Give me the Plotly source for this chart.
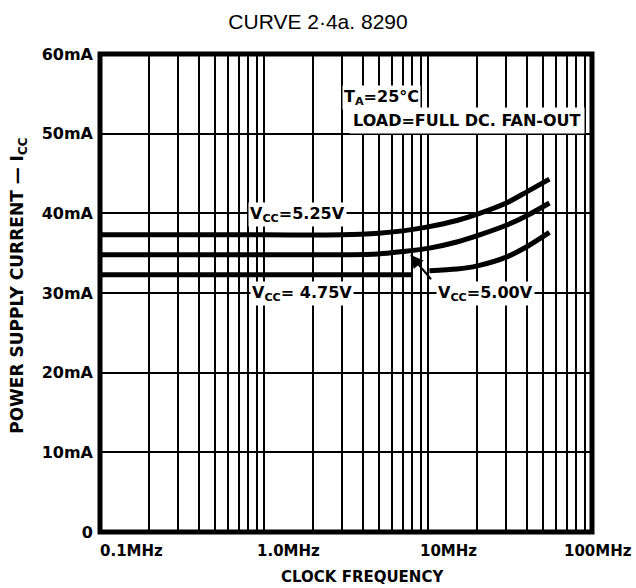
import math
import plotly.graph_objects as go

# Supply current vs. clock frequency, three supply voltages
freq_525 = [0.1, 1, 3, 5, 7, 10, 15, 20, 30, 40, 55]
icc_525 = [37.3, 37.3, 37.3, 37.5, 37.8, 38.3, 39.1, 39.9, 41.3, 42.7, 44.3]

freq_500 = [0.1, 1, 3, 5, 7, 10, 15, 20, 30, 40, 55]
icc_500 = [34.8, 34.8, 34.8, 34.9, 35.2, 35.6, 36.4, 37.2, 38.5, 39.7, 41.3]

freq_475_low = [0.1, 1, 3, 8.1]
icc_475_low = [32.3, 32.3, 32.3, 32.3]
freq_475_high = [10.2, 15, 20, 30, 40, 55]
icc_475_high = [32.8, 33.0, 33.4, 34.5, 35.8, 37.6]

x_ticks = [0.1, 1, 10, 100]
x_tick_text = ["0.1MHz", "1.0MHz", "10MHz", "100MHz"]
y_ticks = [0, 10, 20, 30, 40, 50, 60]
y_tick_text = ["0", "10mA", "20mA", "30mA", "40mA", "50mA", "60mA"]

# log-decade grid: 1..9 multiples of each decade
grid_x = [m * 10 ** e for e in (-1, 0, 1) for m in range(1, 10)] + [100]

BOLD = "DejaVu Sans"
LW = 5


def lx(v):
    # annotation positions on a log axis are given in log10 units
    return math.log10(v)


fig = go.Figure()
for fx, fy in [(freq_525, icc_525), (freq_500, icc_500),
               (freq_475_low, icc_475_low), (freq_475_high, icc_475_high)]:
    fig.add_trace(go.Scatter(x=fx, y=fy, mode="lines",
                             line=dict(color="black", width=LW, shape="spline", smoothing=0.8),
                             hoverinfo="skip", showlegend=False))

fig.update_xaxes(type="log", range=[-1, 2], tickvals=grid_x, showticklabels=False,
                 ticks="", showgrid=True, gridcolor="black", gridwidth=2,
                 zeroline=False, showline=False)
fig.update_yaxes(range=[0, 60], tickvals=y_ticks, ticktext=y_tick_text, ticks="",
                 ticklabelstandoff=6,
                 showgrid=True, gridcolor="black", gridwidth=2, zeroline=False,
                 showline=False,
                 tickfont=dict(family=BOLD, size=16, color="black", weight="bold"))

annotations = []
# frequency tick labels
for v, t, sh in zip(x_ticks, x_tick_text, [31, 24, 20, 6]):
    annotations.append(dict(x=lx(v), y=0, xref="x", yref="paper", text=t,
                            showarrow=False, xanchor="center", yanchor="top",
                            xshift=sh, yshift=-8,
                            font=dict(family=BOLD, size=15, color="black", weight="bold")))

label_font = dict(family=BOLD, size=16, color="black", weight="bold")
for x, y, t in [(1.59, 39.8, "V<sub>CC</sub>=5.25V"),
                (1.70, 29.9, "V<sub>CC</sub>= 4.75V"),
                (22.3, 29.9, "V<sub>CC</sub>=5.00V"),
                (5.2, 54.6, "T<sub>A</sub>=25°C")]:
    annotations.append(dict(x=lx(x), y=y, xref="x", yref="y", text=t, showarrow=False,
                            bgcolor="white", borderpad=1, font=label_font))
annotations.append(dict(x=lx(17.2), y=51.7, xref="x", yref="y", text="LOAD=FULL DC. FAN-OUT",
                        showarrow=False, bgcolor="white", borderpad=3, font=label_font))
# pointer to the 5.00 V curve
annotations.append(dict(x=lx(7.8), y=34.8, xref="x", yref="y", text="", showarrow=True,
                        ax=22, ay=26, arrowhead=2, arrowsize=1.3, arrowwidth=2,
                        arrowcolor="black"))
# axis titles
annotations.append(dict(x=0, y=0.515, xref="paper", yref="paper",
                        text="POWER SUPPLY CURRENT — I<sub>CC</sub>", textangle=-90,
                        showarrow=False, xanchor="center", yanchor="middle", xshift=-81,
                        font=dict(family=BOLD, size=17, color="black", weight="bold")))
annotations.append(dict(x=0.533, y=0, xref="paper", yref="paper", text="CLOCK FREQUENCY",
                        showarrow=False, xanchor="center", yanchor="top", yshift=-34,
                        font=dict(family=BOLD, size=15, color="black", weight="bold")))

fig.update_layout(
    width=636, height=588,
    margin=dict(l=100, r=44, t=54, b=56),
    paper_bgcolor="white", plot_bgcolor="white",
    title=dict(text="CURVE 2·4a. 8290", x=0.5, xanchor="center", y=1 - 22 / 588,
               yanchor="middle", font=dict(family="Liberation Sans", size=21, color="black")),
    annotations=annotations,
    shapes=[dict(type="rect", xref="paper", yref="paper", x0=0, x1=1, y0=0, y1=1,
                 line=dict(color="black", width=5), layer="above")],
)

fig.write_html("out.html")
